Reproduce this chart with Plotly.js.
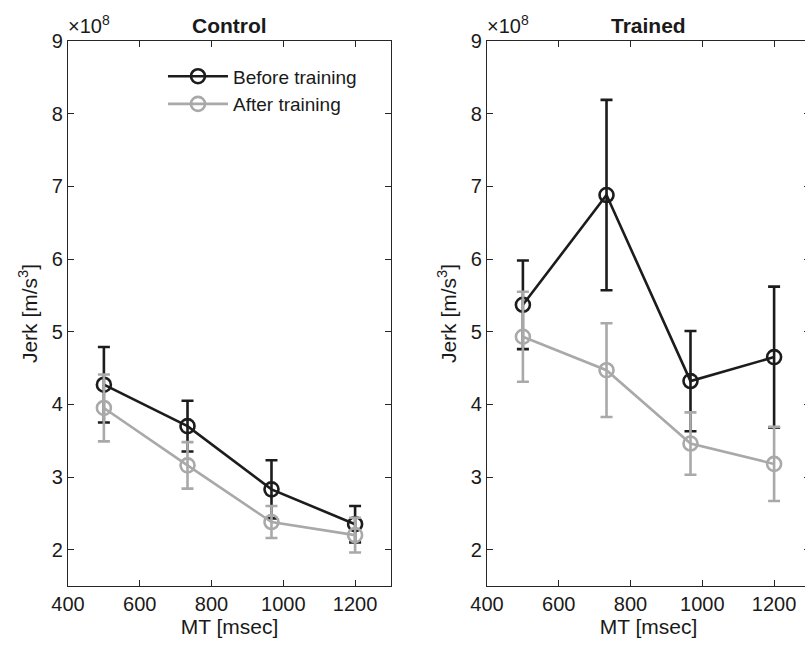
<!DOCTYPE html>
<html>
<head>
<meta charset="utf-8">
<script src="https://cdn.plot.ly/plotly-3.0.1.min.js"></script>
<style>
html,body{margin:0;padding:0;overflow:hidden;background:#fff;}
#chart{width:810px;height:647px;}
</style>
</head>
<body>
<div id="chart"></div>
<script>
// MT [msec]
const mt = [500, 733, 967, 1200];
// Jerk values in units of 1e8 m/s^3
const controlBefore = [4.27, 3.70, 2.83, 2.35];
const controlBeforeErr = [0.52, 0.35, 0.40, 0.25];
const controlAfter = [3.95, 3.16, 2.38, 2.20];
const controlAfterErr = [0.46, 0.32, 0.22, 0.24];
const trainedBefore = [5.37, 6.88, 4.32, 4.65];
const trainedBeforeErr = [0.61, 1.31, 0.69, 0.97];
const trainedAfter = [4.93, 4.47, 3.46, 3.18];
const trainedAfterErr = [0.62, 0.645, 0.43, 0.51];
const yTicks = [2, 3, 4, 5, 6, 7, 8, 9];
const xTicks = [400, 600, 800, 1000, 1200];
const seriesNames = ['Before training', 'After training'];
const panelTitles = ['Control', 'Trained'];

const BLACK = '#1c1c1c';
const GRAY = '#a9a9a9';
const FONT = 'Liberation Sans, Arial, sans-serif';

function tr(y, err, color, name, xa, ya, show) {
  return {
    x: mt, y: y, type: 'scatter', mode: 'lines+markers', name: name,
    xaxis: xa, yaxis: ya, showlegend: show,
    line: {color: color, width: 2.6},
    marker: {symbol: 'circle-open', size: 14, color: color, line: {color: color, width: 2.6}},
    error_y: {type: 'data', array: err, visible: true, color: color, thickness: 2.6, width: 6}
  };
}

const data = [
  tr(controlBefore, controlBeforeErr, BLACK, seriesNames[0], 'x', 'y', true),
  tr(controlAfter, controlAfterErr, GRAY, seriesNames[1], 'x', 'y', true),
  tr(trainedBefore, trainedBeforeErr, BLACK, seriesNames[0], 'x2', 'y2', false),
  tr(trainedAfter, trainedAfterErr, GRAY, seriesNames[1], 'x2', 'y2', false)
];

const axisCommon = {
  showgrid: false, zeroline: false, showline: true, linecolor: '#262626', linewidth: 1.2,
  mirror: 'ticks', ticks: 'inside', ticklen: 6, tickwidth: 1, tickcolor: '#262626',
  tickfont: {family: FONT, size: 20, color: '#1a1a1a'}
};

function xax(domain, anchor) {
  return Object.assign({}, axisCommon, {
    domain: domain, anchor: anchor, range: [400, 1300], tickvals: xTicks,
    title: {text: 'MT [msec]', font: {family: FONT, size: 21, color: '#1a1a1a'}, standoff: 4}
  });
}
function yax(anchor) {
  return Object.assign({}, axisCommon, {
    anchor: anchor, range: [1.5, 9], tickvals: yTicks, ticktext: yTicks.map(String),
    domain: [0, 1],
    title: {text: 'Jerk [m/s<sup>3</sup>]', font: {family: FONT, size: 21, color: '#1a1a1a'}, standoff: 8}
  });
}

const layout = {
  width: 810, height: 647,
  margin: {l: 68, r: 0, t: 41, b: 61},
  paper_bgcolor: '#fff', plot_bgcolor: '#fff',
  font: {family: FONT, color: '#1a1a1a'},
  showlegend: true,
  legend: {
    x: 0.128, y: 0.97, xanchor: 'left', yanchor: 'top',
    bgcolor: 'rgba(0,0,0,0)', borderwidth: 0,
    font: {family: FONT, size: 19, color: '#1a1a1a'},
    tracegroupgap: 0, itemwidth: 60
  },
  xaxis: xax([0, 0.4353], 'y'),
  yaxis: yax('x'),
  xaxis2: xax([0.5647, 1], 'y2'),
  yaxis2: yax('x2'),
  annotations: [
    {text: '<b>' + panelTitles[0] + '</b>', xref: 'paper', yref: 'paper', x: 0.2177, y: 1, xanchor: 'center', yanchor: 'middle', yshift: 16, showarrow: false, font: {family: FONT, size: 21, color: '#1a1a1a'}},
    {text: '<b>' + panelTitles[1] + '</b>', xref: 'paper', yref: 'paper', x: 0.7823, y: 1, xanchor: 'center', yanchor: 'middle', yshift: 16, showarrow: false, font: {family: FONT, size: 21, color: '#1a1a1a'}},
    {text: '\u00d710<sup>8</sup>', xref: 'paper', yref: 'paper', x: 0, y: 1, xanchor: 'left', yanchor: 'middle', yshift: 17, xshift: -2, showarrow: false, font: {family: FONT, size: 20, color: '#1a1a1a'}},
    {text: '\u00d710<sup>8</sup>', xref: 'paper', yref: 'paper', x: 0.5647, y: 1, xanchor: 'left', yanchor: 'middle', yshift: 17, xshift: -2, showarrow: false, font: {family: FONT, size: 20, color: '#1a1a1a'}}
  ]
};

Plotly.newPlot('chart', data, layout, {displayModeBar: false, staticPlot: true});
</script>
</body>
</html>
